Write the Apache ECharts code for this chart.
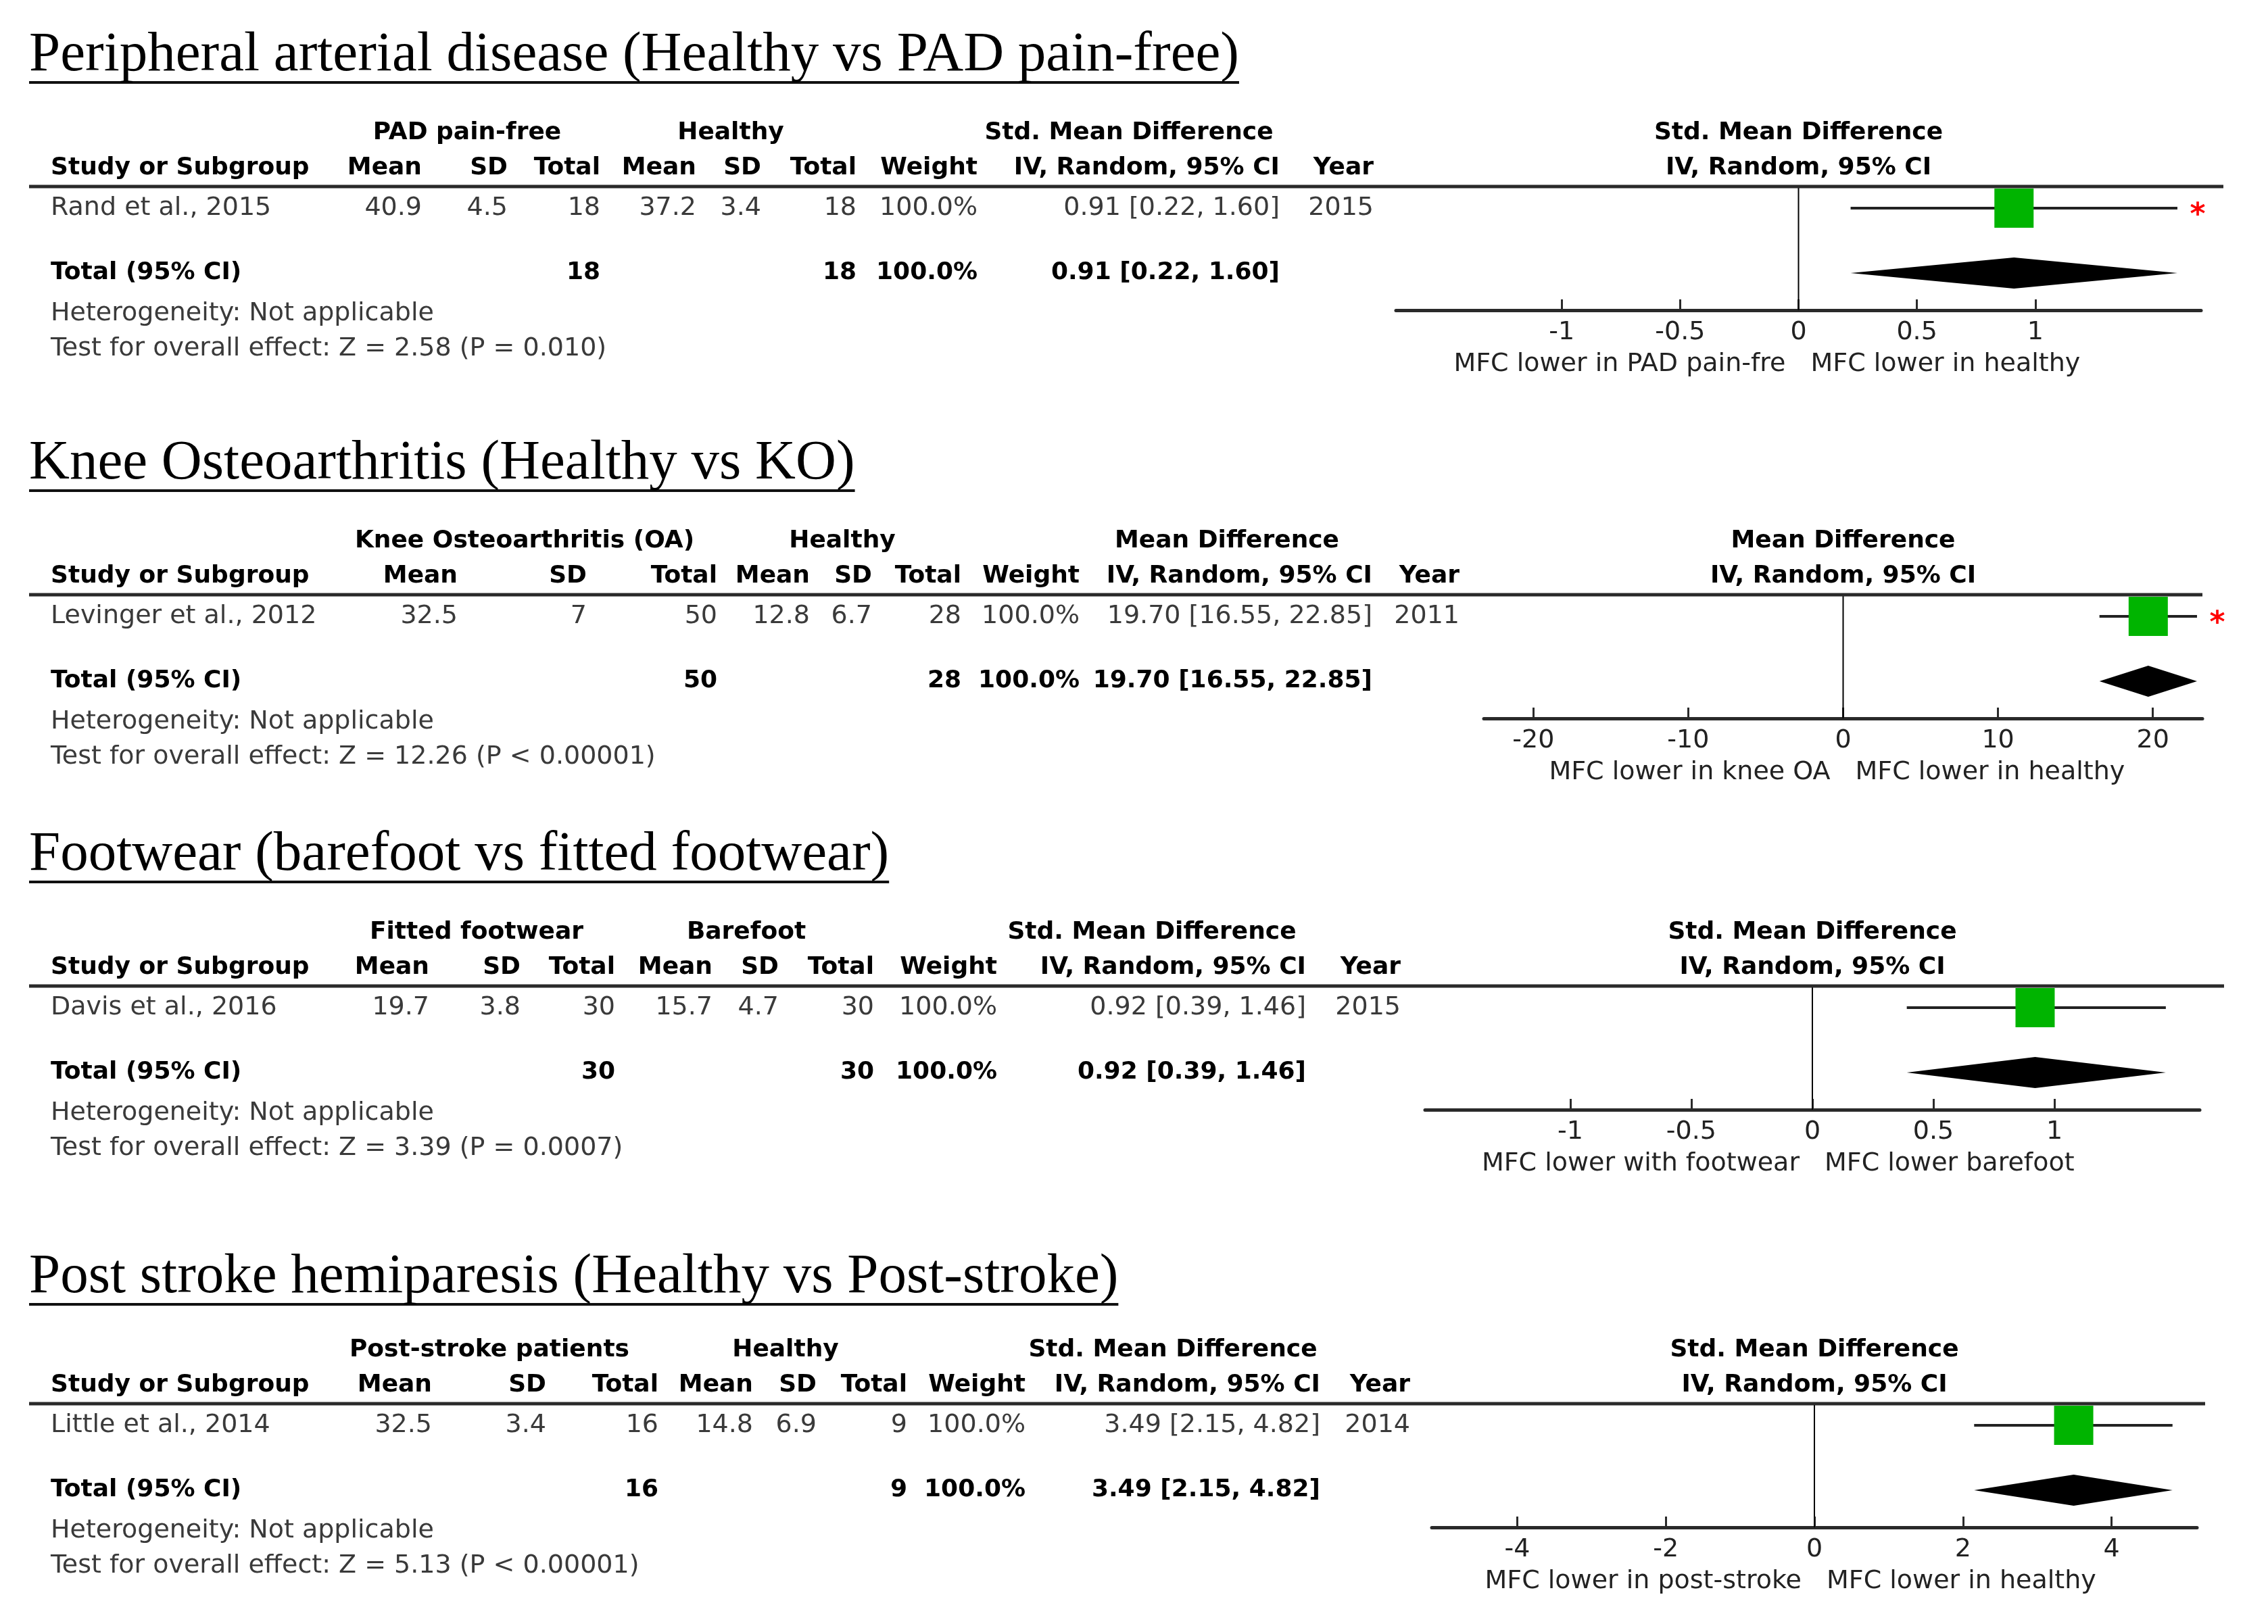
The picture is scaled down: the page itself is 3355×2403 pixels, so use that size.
<!DOCTYPE html>
<html><head><meta charset="utf-8">
<script src="https://cdn.jsdelivr.net/npm/echarts@6/dist/echarts.min.js"></script>
<style>html,body{margin:0;padding:0;background:#fff}#chart{width:3355px;height:2403px;background:#fff}</style>
</head><body><div id="chart"></div>
<script>
// ---------------- DATA ----------------
const panelTitles = ['Peripheral arterial disease (Healthy vs PAD pain-free)', 'Knee Osteoarthritis (Healthy vs KO)', 'Footwear (barefoot vs fitted footwear)', 'Post stroke hemiparesis (Healthy vs Post-stroke)'];
const groupA = ['PAD pain-free', 'Knee Osteoarthritis (OA)', 'Fitted footwear', 'Post-stroke patients'];
const groupB = ['Healthy', 'Healthy', 'Barefoot', 'Healthy'];
const measures = ['Std. Mean Difference', 'Mean Difference', 'Std. Mean Difference', 'Std. Mean Difference'];
const columnHeaders = ['Mean', 'SD', 'Total', 'Mean', 'SD', 'Total', 'Weight', 'IV, Random, 95% CI', 'Year'];
const studyNames = ['Rand et al., 2015', 'Levinger et al., 2012', 'Davis et al., 2016', 'Little et al., 2014'];
const meanA = [40.9, 32.5, 19.7, 32.5];
const sdA = [4.5, 7, 3.8, 3.4];
const nA = [18, 50, 30, 16];
const meanB = [37.2, 12.8, 15.7, 14.8];
const sdB = [3.4, 6.7, 4.7, 6.9];
const nB = [18, 28, 30, 9];
const weightPct = [100, 100, 100, 100];
const effect = [0.91, 19.70, 0.92, 3.49];
const ciLow = [0.22, 16.55, 0.39, 2.15];
const ciHigh = [1.60, 22.85, 1.46, 4.82];
const years = [2015, 2011, 2015, 2014];
const zValues = ['2.58', '12.26', '3.39', '5.13'];
const pValues = ['P = 0.010', 'P < 0.00001', 'P = 0.0007', 'P < 0.00001'];
const tickValues = [[-1, -0.5, 0, 0.5, 1], [-20, -10, 0, 10, 20], [-1, -0.5, 0, 0.5, 1], [-4, -2, 0, 2, 4]];
const favoursLeft = ['MFC lower in PAD pain-fre', 'MFC lower in knee OA', 'MFC lower with footwear', 'MFC lower in post-stroke'];
const favoursRight = ['MFC lower in healthy', 'MFC lower in healthy', 'MFC lower barefoot', 'MFC lower in healthy'];
const flagged = [true, true, false, false];

// ---------------- LAYOUT ----------------
const ruleY = [276, 880, 1459, 2077];
const titleMid = [-194, -194, -194, -187];
const colRight = [
  [624, 751, 888, 1030, 1126, 1267, 1446, 1893, 2032],
  [677, 868, 1061, 1198, 1290, 1422, 1597, 2030, 2159],
  [635, 770, 910, 1054, 1152, 1293, 1475, 1932, 2072],
  [639, 808, 974, 1114, 1208, 1342, 1517, 1953, 2086]
];
const groupCenter = [[691, 1081, 1670], [776, 1246, 1815], [705, 1104, 1704], [724, 1162, 1735]];
const axisSpan = [[2065, 3256], [2195, 3258], [2108, 3254], [2118, 3250]];
const ruleEnd = [3289, 3258, 3290, 3262];
const xRange = [[-1.7, 1.7], [-23.2, 23.2], [-1.6, 1.6], [-5.15, 5.15]];
const PLOT_H = 183;
const ROW_STUDY = 1 - 32 / PLOT_H;
const ROW_TOTAL = 1 - 128 / PLOT_H;
const LEFT_X = 75;
const SANS = '"DejaVu Sans", Verdana, sans-serif';
const SERIF = '"Liberation Serif", "Times New Roman", serif';
const F_BOLD = 'bold 36px ' + SANS;
const F_REG = '38px ' + SANS;
const F_TITLE = '83px ' + SERIF;
const C_REG = '#3a3a3a';
const C_BOLD = '#000';

const chart = echarts.init(document.getElementById('chart'));

function txt(x, y, s, font, fill, align) {
  return { type: 'text', x: x, y: y, silent: true, z: 10,
    style: { text: s, font: font, fill: fill, align: align || 'left', verticalAlign: 'middle' } };
}
function hline(x1, x2, y, w, color) {
  return { type: 'line', silent: true, z: 5, shape: { x1: x1, y1: y, x2: x2, y2: y }, style: { stroke: color, lineWidth: w } };
}
const measureCanvas = document.createElement('canvas').getContext('2d');
function textWidth(s, font) { measureCanvas.font = font; return measureCanvas.measureText(s).width; }
const fmtCI = i => effect[i].toFixed(2) + ' [' + ciLow[i].toFixed(2) + ', ' + ciHigh[i].toFixed(2) + ']';

const grids = [], xAxes = [], yAxes = [], series = [];
for (let i = 0; i < 4; i++) {
  grids.push({ left: axisSpan[i][0], width: axisSpan[i][1] - axisSpan[i][0], top: ruleY[i], height: PLOT_H, outerBoundsMode: 'none', containLabel: false });
  xAxes.push({
    type: 'value', gridIndex: i, min: xRange[i][0], max: xRange[i][1],
    splitLine: { show: false },
    axisLine: { show: true, onZero: false, lineStyle: { color: '#2a2a2a', width: 5 } },
    axisTick: { show: true, inside: true, length: 16, customValues: tickValues[i], lineStyle: { color: '#2a2a2a', width: 3 } },
    axisLabel: { show: true, customValues: tickValues[i], margin: 14, fontFamily: SANS, fontSize: 38, color: '#222', formatter: v => String(v) }
  });
  yAxes.push({ type: 'value', gridIndex: i, min: 0, max: 1, show: false });
  // zero (no effect) line
  series.push({
    type: 'custom', xAxisIndex: i, yAxisIndex: i, silent: true, z: 2,
    data: [[0]],
    renderItem: function (params, api) {
      const a = api.coord([api.value(0), 1]);
      const b = api.coord([api.value(0), 0]);
      return { type: 'line', shape: { x1: a[0], y1: a[1], x2: b[0], y2: b[1] }, style: { stroke: '#000', lineWidth: 2 } };
    }
  });
  // study estimate: CI line + weight square + asterisk
  series.push({
    type: 'custom', xAxisIndex: i, yAxisIndex: i, silent: true, z: 3,
    data: [[effect[i], ciLow[i], ciHigh[i], ROW_STUDY, flagged[i] ? 1 : 0]],
    renderItem: function (params, api) {
      const y = api.value(3);
      const c = api.coord([api.value(0), y]);
      const l = api.coord([api.value(1), y]);
      const h = api.coord([api.value(2), y]);
      const kids = [
        { type: 'line', shape: { x1: l[0], y1: l[1], x2: h[0], y2: h[1] }, style: { stroke: '#222', lineWidth: 4 } },
        { type: 'rect', shape: { x: c[0] - 29, y: c[1] - 29, width: 58, height: 58 }, style: { fill: '#00b400' } }
      ];
      if (api.value(4)) {
        kids.push({ type: 'text', x: h[0] + 30, y: c[1] + 12, style: { text: '*', font: 'bold 44px ' + SANS, fill: '#ff0000', align: 'center', verticalAlign: 'middle' } });
      }
      return { type: 'group', children: kids };
    }
  });
  // pooled diamond
  series.push({
    type: 'custom', xAxisIndex: i, yAxisIndex: i, silent: true, z: 3,
    data: [[effect[i], ciLow[i], ciHigh[i], ROW_TOTAL]],
    renderItem: function (params, api) {
      const y = api.value(3);
      const c = api.coord([api.value(0), y]);
      const l = api.coord([api.value(1), y]);
      const h = api.coord([api.value(2), y]);
      return { type: 'polygon', shape: { points: [[l[0], c[1]], [c[0], c[1] - 23], [h[0], c[1]], [c[0], c[1] + 23]] }, style: { fill: '#000' } };
    }
  });
}

chart.setOption({
  backgroundColor: '#fff',
  animation: false,
  grid: grids, xAxis: xAxes, yAxis: yAxes, series: series
});

const g = [];
for (let i = 0; i < 4; i++) {
  const r = ruleY[i];
  const zx = chart.convertToPixel({ xAxisIndex: i }, 0);
  // title + underline
  g.push(txt(43, r + titleMid[i], panelTitles[i], F_TITLE, '#000', 'left'));
  g.push(hline(43, 43 + textWidth(panelTitles[i], F_TITLE), r + titleMid[i] + 40, 4, '#111'));
  // header rule
  g.push(hline(43, ruleEnd[i], r, 5, '#2a2a2a'));
  // group headers
  g.push(txt(groupCenter[i][0], r - 79, groupA[i], F_BOLD, C_BOLD, 'center'));
  g.push(txt(groupCenter[i][1], r - 79, groupB[i], F_BOLD, C_BOLD, 'center'));
  g.push(txt(groupCenter[i][2], r - 79, measures[i], F_BOLD, C_BOLD, 'center'));
  g.push(txt(zx, r - 79, measures[i], F_BOLD, C_BOLD, 'center'));
  g.push(txt(zx, r - 27, 'IV, Random, 95% CI', F_BOLD, C_BOLD, 'center'));
  // column headers
  g.push(txt(LEFT_X, r - 27, 'Study or Subgroup', F_BOLD, C_BOLD, 'left'));
  columnHeaders.forEach((h, k) => g.push(txt(colRight[i][k], r - 27, h, F_BOLD, C_BOLD, 'right')));
  // study row
  const rowVals = [meanA[i], sdA[i], nA[i], meanB[i], sdB[i], nB[i], weightPct[i].toFixed(1) + '%', fmtCI(i), years[i]];
  g.push(txt(LEFT_X, r + 32, studyNames[i], F_REG, C_REG, 'left'));
  rowVals.forEach((v, k) => g.push(txt(colRight[i][k], r + 32, String(v), F_REG, C_REG, 'right')));
  // total row
  g.push(txt(LEFT_X, r + 128, 'Total (95% CI)', F_BOLD, C_BOLD, 'left'));
  g.push(txt(colRight[i][2], r + 128, String(nA[i]), F_BOLD, C_BOLD, 'right'));
  g.push(txt(colRight[i][5], r + 128, String(nB[i]), F_BOLD, C_BOLD, 'right'));
  g.push(txt(colRight[i][6], r + 128, weightPct[i].toFixed(1) + '%', F_BOLD, C_BOLD, 'right'));
  g.push(txt(colRight[i][7], r + 128, fmtCI(i), F_BOLD, C_BOLD, 'right'));
  // heterogeneity / overall effect
  g.push(txt(LEFT_X, r + 188, 'Heterogeneity: Not applicable', F_REG, C_REG, 'left'));
  g.push(txt(LEFT_X, r + 240, 'Test for overall effect: Z = ' + zValues[i] + ' (' + pValues[i] + ')', F_REG, C_REG, 'left'));
  // favours labels
  g.push(txt(zx - 19, r + PLOT_H + 80, favoursLeft[i], F_REG, '#222', 'right'));
  g.push(txt(zx + 18, r + PLOT_H + 80, favoursRight[i], F_REG, '#222', 'left'));
}
chart.setOption({ graphic: { elements: g } });
</script>
</body></html>
